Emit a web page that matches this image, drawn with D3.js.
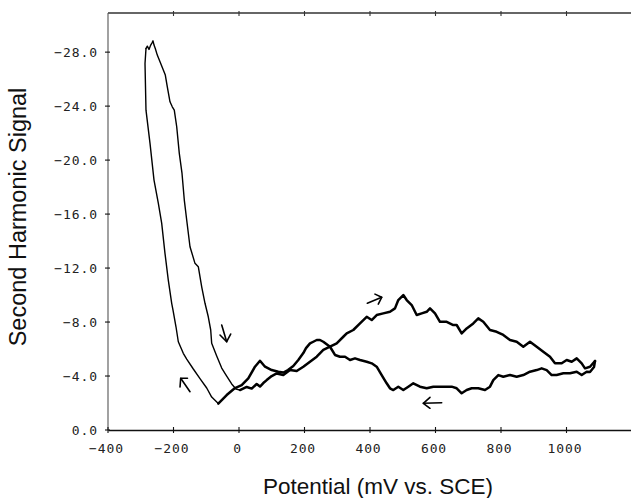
<!DOCTYPE html>
<html>
<head>
<meta charset="utf-8">
<script src="https://cdn.jsdelivr.net/npm/d3@7"></script>
<style>
  html, body { margin: 0; padding: 0; background: #fff; }
  svg { display: block; }
</style>
</head>
<body>
<svg id="chart" width="631" height="498"></svg>
<script>
// ---- data (potential mV, signal) ----
const xTicks = [-400, -200, 0, 200, 400, 600, 800, 1000];
const yTicks = [0, -4, -8, -12, -16, -20, -24, -28];

// left loop, scanning positive from the top peak down to ~0 mV
const descendingScan = [
  [-284.0,-28.27],[-280.0,-28.44],[-274.8,-28.20],[-269.6,-28.52],[-265.6,-28.69],[-262.6,-28.84],
  [-259.5,-28.52],[-255.6,-28.27],[-249.5,-27.78],[-241.2,-27.28],[-231.1,-26.67],[-225.0,-26.30],
  [-218.9,-25.43],[-210.7,-24.32],[-203.7,-23.95],[-197.6,-23.70],[-190.2,-22.47],[-182.3,-20.50],
  [-174.0,-19.01],[-167.0,-17.04],[-159.7,-15.56],[-149.6,-13.58],[-134.4,-12.35],[-124.3,-12.10],
  [-113.9,-10.61],[-103.8,-9.39],[-93.8,-8.39],[-86.4,-7.41],[-83.4,-6.42],[-68.1,-5.48],
  [-52.8,-4.59],[-37.6,-4.00],[-22.3,-3.41],[-9.2,-3.04],[3.0,-2.96]
];
// forward scan to 1100 mV
const forwardScan = [
  [3.0,-2.96],[23.5,-3.19],[38.8,-3.07],[54.0,-3.41],[64.1,-3.22],[74.2,-3.48],[84.6,-3.70],
  [99.9,-4.00],[115.1,-4.19],[135.3,-4.07],[155.7,-4.44],[176.2,-4.37],[196.4,-4.69],[216.8,-5.06],
  [237.3,-5.43],[257.4,-5.93],[277.9,-6.17],[298.3,-6.42],[318.5,-6.91],[328.9,-7.16],[349.0,-7.41],
  [369.5,-7.90],[389.9,-8.39],[405.2,-8.15],[420.4,-8.52],[440.6,-8.64],[461.0,-8.76],[476.3,-9.01],
  [486.4,-9.63],[501.7,-10.00],[512.0,-9.63],[527.3,-9.26],[542.6,-8.52],[557.9,-8.64],[573.1,-8.76],
  [583.2,-9.01],[598.5,-8.64],[613.7,-8.02],[634.2,-8.02],[654.3,-7.78],[664.7,-7.78],[679.9,-7.16],
  [695.2,-7.53],[715.4,-7.90],[730.6,-8.27],[745.9,-8.02],[766.4,-7.41],[786.8,-7.28],[807.0,-7.04],
  [827.5,-6.67],[847.9,-6.54],[868.1,-6.17],[888.5,-6.54],[909.0,-6.17],[929.1,-5.80],[949.6,-5.43],
  [964.9,-4.94],[985.3,-4.94],[1000.6,-5.19],[1015.9,-5.06],[1031.2,-5.31],[1046.4,-4.94],
  [1056.5,-4.57],[1071.7,-4.69],[1087.0,-5.11]
];
// reverse scan back to the minimum near -65 mV
const reverseScan = [
  [1087.0,-5.11],[1084.0,-4.67],[1071.7,-4.30],[1061.7,-4.32],[1046.4,-4.07],[1031.2,-4.32],
  [1010.7,-4.20],[990.3,-4.20],[970.0,-4.07],[954.7,-4.07],[939.4,-4.44],[924.2,-4.57],[909.0,-4.44],
  [888.5,-4.32],[868.1,-4.07],[847.9,-3.95],[827.5,-4.07],[807.0,-3.95],[791.8,-4.07],[776.5,-3.70],
  [766.4,-3.21],[751.1,-2.96],[730.6,-3.09],[710.5,-3.09],[695.2,-2.96],[679.9,-2.72],[664.7,-3.09],
  [649.4,-3.21],[629.0,-3.21],[613.7,-3.21],[593.3,-3.21],[573.1,-3.09],[552.7,-3.21],[532.2,-3.46],
  [517.0,-3.21],[501.7,-2.96],[486.4,-3.21],[471.2,-2.96],[461.0,-3.09],[450.9,-3.46],[435.7,-4.07],
  [420.4,-4.69],[405.2,-4.94],[389.9,-5.06],[369.5,-5.19],[354.2,-5.31],[339.0,-5.19],[323.7,-5.43],
  [308.4,-5.43],[293.1,-5.56],[277.9,-6.17],[257.4,-6.54],[247.3,-6.67],[237.3,-6.67],[226.9,-6.54],
  [216.8,-6.42],[204.6,-6.07],[196.4,-5.70],[181.1,-5.19],[165.8,-4.74],[149.6,-4.44],[135.3,-4.26],
  [120.0,-4.32],[99.9,-4.44],[79.5,-4.69],[64.1,-5.13],[48.8,-4.69],[28.4,-3.83],[8.2,-3.33],
  [-12.2,-3.11],[-37.6,-2.59],[-63.2,-1.96]
];
// left loop, scanning negative back up to the peak
const ascendingScan = [
  [-63.2,-1.96],[-83.4,-2.44],[-98.6,-3.11],[-119.1,-3.81],[-139.5,-4.52],[-159.7,-5.26],
  [-170.1,-5.68],[-185.3,-6.54],[-192.4,-7.65],[-201.5,-8.89],[-205.5,-9.39],[-215.9,-11.11],
  [-226.0,-13.09],[-236.0,-15.31],[-246.4,-16.81],[-259.5,-18.52],[-271.8,-21.26],[-284.0,-23.70],
  [-287.0,-27.16],[-284.0,-28.27]
];

// arrow annotations: [tail, head, wing1, wing2]
const arrows = [
  [[-52.8,-7.78],[-37.6,-6.54],[-58.0,-7.04],[-25.4,-7.11]],
  [[-149.6,-2.84],[-178.0,-3.83],[-180.1,-3.19],[-157.3,-3.83]],
  [[391.8,-9.39],[435.7,-9.83],[415.2,-10.07],[425.3,-9.33]],
  [[618.9,-2.02],[562.8,-1.98],[583.2,-2.42],[583.2,-1.61]]
];

// ---- layout ----
const svg = d3.select("#chart");
const mLeft = 108, mRight = 632, mTop = 13, mBottom = 430;

const x = d3.scaleLinear().domain([-400, 1200]).range([mLeft, mRight]);
const y = d3.scaleLinear().domain([0, -30.9]).range([mBottom, mTop]);

const tickFont = "'DejaVu Sans Mono', monospace";

// frame
svg.append("line").attr("x1", mLeft).attr("x2", mRight).attr("y1", mTop).attr("y2", mTop)
  .attr("stroke", "#333").attr("stroke-width", 1.4);
svg.append("line").attr("x1", mLeft).attr("x2", mLeft).attr("y1", mTop).attr("y2", mBottom)
  .attr("stroke", "#555").attr("stroke-width", 1.1);

// bottom axis
const xAxis = d3.axisBottom(x).tickValues(xTicks).tickSize(0).tickPadding(0)
  .tickFormat(d3.format("d"));
const gx = svg.append("g").attr("transform", `translate(0,${mBottom})`).call(xAxis);
gx.select(".domain").attr("stroke", "#111").attr("stroke-width", 1.5);
gx.selectAll("text").attr("font-family", tickFont).attr("font-size", 13)
  .attr("letter-spacing", "0.9px").attr("fill", "#222").attr("dy", null)
  .attr("y", 22.5).attr("dx", -2);
// x tick marks (cross the bottom axis and hang from the top frame)
svg.append("g").selectAll("line").data(xTicks).join("line")
  .attr("x1", d => x(d)).attr("x2", d => x(d))
  .attr("y1", mBottom - 3).attr("y2", mBottom + 3)
  .attr("stroke", "#111").attr("stroke-width", 1.1);
svg.append("g").selectAll("line").data(xTicks.slice(1)).join("line")
  .attr("x1", d => x(d)).attr("x2", d => x(d))
  .attr("y1", mTop - 2).attr("y2", mTop + 3)
  .attr("stroke", "#333").attr("stroke-width", 1.1);

// left axis labels and ticks
const yAxis = d3.axisLeft(y).tickValues(yTicks).tickSize(0).tickPadding(0)
  .tickFormat(d3.format(".1f"));
const gy = svg.append("g").attr("transform", `translate(${mLeft},0)`).call(yAxis);
gy.select(".domain").remove();
gy.selectAll("text").attr("font-family", tickFont).attr("font-size", 13)
  .attr("letter-spacing", "0.9px").attr("fill", "#222")
  .attr("x", -10).attr("dy", "0.36em");
svg.append("g").selectAll("line").data(yTicks).join("line")
  .attr("x1", mLeft - 3).attr("x2", mLeft + 2)
  .attr("y1", d => y(d)).attr("y2", d => y(d))
  .attr("stroke", "#111").attr("stroke-width", 1.1);

// titles
svg.append("text").attr("x", 378).attr("y", 494).attr("text-anchor", "middle")
  .attr("font-family", "'Liberation Sans', Arial, sans-serif").attr("font-size", 22.5)
  .attr("fill", "#111").text("Potential (mV vs. SCE)");
svg.append("text").attr("transform", "translate(26,217) rotate(-90)")
  .attr("text-anchor", "middle")
  .attr("font-family", "'Liberation Sans', Arial, sans-serif").attr("font-size", 23.5)
  .attr("fill", "#111").text("Second Harmonic Signal");

// curves
const line = d3.line().x(d => x(d[0])).y(d => y(d[1]));
const curves = [
  {data: descendingScan, w: 1.4},
  {data: ascendingScan, w: 1.4},
  {data: forwardScan, w: 2.5},
  {data: reverseScan, w: 2.5}
];
svg.append("g").selectAll("path").data(curves).join("path")
  .attr("d", d => line(d.data)).attr("fill", "none")
  .attr("stroke", "#000").attr("stroke-width", d => d.w)
  .attr("stroke-linejoin", "round").attr("stroke-linecap", "round");

// arrows
const ga = svg.append("g").attr("fill", "none").attr("stroke", "#000")
  .attr("stroke-width", 1.6).attr("stroke-linecap", "round").attr("stroke-linejoin", "round");
arrows.forEach(a => {
  ga.append("path").attr("d", line([a[0], a[1]]));
  ga.append("path").attr("d", line([a[2], a[1], a[3]]));
});
</script>
</body>
</html>
